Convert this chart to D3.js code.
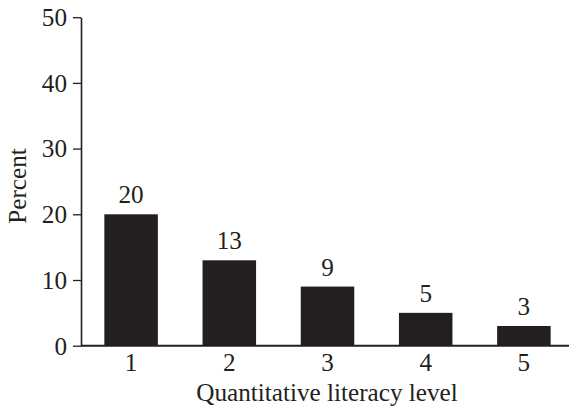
<!DOCTYPE html>
<html><head><meta charset="utf-8">
<script src="https://cdn.jsdelivr.net/npm/d3@7"></script>
<style>body{margin:0;background:#fff}svg{display:block}text{font-family:"Liberation Serif",serif;fill:#231f20}</style>
</head><body>
<script>
const categories = ["1","2","3","4","5"];
const values = [20,13,9,5,3];
const yTicks = [0,10,20,30,40,50];

const W=569,H=411, ink="#231f20", fs="25.2px", ff="Liberation Serif";
const svg=d3.select("body").append("svg").attr("width",W).attr("height",H);
const x=d3.scaleBand().domain(categories).range([82,573]).paddingInner(0.455).paddingOuter(0.2275);
const y=d3.scaleLinear().domain([0,50]).range([345.7,17.2]);

const ya=svg.append("g").attr("transform","translate(81,0)")
  .call(d3.axisLeft(y).tickValues(yTicks).tickSize(8).tickSizeOuter(0).tickPadding(6));
ya.select(".domain").attr("stroke",ink).attr("stroke-width",1.6);
ya.selectAll(".tick line").attr("stroke",ink).attr("stroke-width",1.3);
ya.selectAll(".tick text").style("font-size",fs).style("font-family",ff).attr("fill",ink).attr("dy","0.33em");

svg.selectAll("rect.bar").data(values).join("rect").attr("class","bar")
  .attr("x",(d,i)=>x(categories[i])).attr("width",x.bandwidth())
  .attr("y",d=>y(d)).attr("height",d=>y(0)-y(d)).attr("fill",ink);

const xa=svg.append("g").attr("transform",`translate(0,${y(0)})`)
  .call(d3.axisBottom(x).tickSize(0).tickPadding(0));
xa.select(".domain").remove();
svg.append("line").attr("x1",81).attr("x2",W).attr("y1",y(0)).attr("y2",y(0)).attr("stroke",ink).attr("stroke-width",2);
xa.selectAll(".tick text").style("font-size",fs).style("font-family",ff).attr("fill",ink).attr("dy",null).attr("y",25);

svg.selectAll("text.val").data(values).join("text").attr("class","val")
  .attr("x",(d,i)=>x(categories[i])+x.bandwidth()/2).attr("y",d=>y(d)-11)
  .attr("text-anchor","middle").style("font-size",fs).text(d=>d);

svg.append("text").attr("x",327).attr("y",401).attr("text-anchor","middle").style("font-size",fs).text("Quantitative literacy level");
svg.append("text").attr("transform","translate(26,186) rotate(-90)").attr("text-anchor","middle").style("font-size",fs).text("Percent");
</script>
</body></html>
